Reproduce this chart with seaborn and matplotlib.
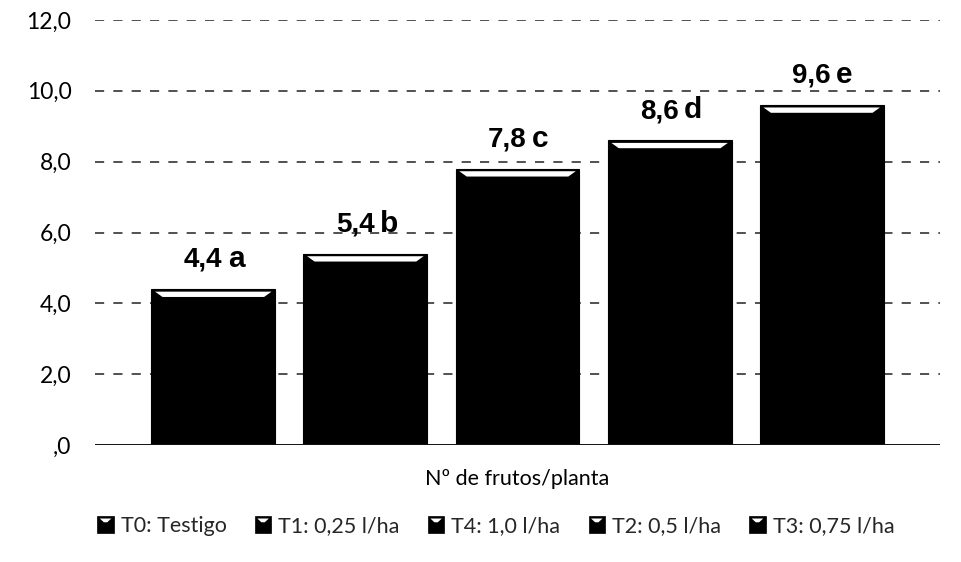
import matplotlib
matplotlib.use("Agg")
import matplotlib.pyplot as plt
from matplotlib.patches import Polygon, Rectangle
from matplotlib.legend_handler import HandlerBase
import seaborn as sns
import pandas as pd

# Fruits per plant by treatment, with significance letters
category = ["Nº de frutos/planta"]
treatments = ["T0: Testigo", "T1: 0,25 l/ha", "T4: 1,0 l/ha", "T2: 0,5 l/ha", "T3: 0,75 l/ha"]
values = [4.4, 5.4, 7.8, 8.6, 9.6]
letters = ["a", "b", "c", "d", "e"]
y_ticks = [0, 2, 4, 6, 8, 10, 12]
y_tick_labels = [",0", "2,0", "4,0", "6,0", "8,0", "10,0", "12,0"]

df = pd.DataFrame({
    "grupo": category * len(treatments),
    "tratamiento": treatments,
    "valor": values,
})

sns.set_theme(style="white")
plt.rcParams["font.family"] = ["Lato", "DejaVu Sans"]

fig = plt.figure(figsize=(9.62, 5.62), dpi=100)
ax = fig.add_axes([95 / 962, 1 - 445 / 562, (940 - 95) / 962, (445 - 20) / 562])

sns.barplot(
    data=df, x="grupo", y="valor", hue="tratamiento",
    hue_order=treatments, palette=["black"] * len(treatments),
    width=0.9, gap=0.185, edgecolor="black", linewidth=0.8,
    ax=ax, zorder=3,
)

ax.set_xlim(-0.5, 0.5)
ax.set_ylim(0, 12)
ax.set_yticks(y_ticks)
ax.set_yticklabels(y_tick_labels)
ax.set_xlabel("")
ax.set_ylabel("")
ax.tick_params(axis="y", length=0, labelsize=16.5, pad=17, colors="black")
ax.tick_params(axis="x", length=0, labelsize=15.5, pad=17, colors="black")
for s in ax.spines.values():
    s.set_visible(False)

# dashed horizontal gridlines
for v in y_ticks[1:]:
    ax.axhline(v, color="#222222", lw=1.1, ls=(0, (6, 6)), zorder=1)
ax.axhline(0, color="#111111", lw=1.4, zorder=4)

# white bevel highlight near each bar top, plus value labels
bars = [p for p in ax.patches if p.get_height() > 0]
bars = sorted(bars, key=lambda p: p.get_x())
for p, v, lt in zip(bars, values, letters):
    x0, w, h = p.get_x(), p.get_width(), p.get_height()
    ax.add_patch(Polygon(
        [(x0 + w * 0.03, h - 0.07), (x0 + w * 0.97, h - 0.07),
         (x0 + w * 0.91, h - 0.22), (x0 + w * 0.09, h - 0.22)],
        closed=True, facecolor="white", edgecolor="none", zorder=5))
    cx = x0 + w / 2
    ax.annotate(str(v).replace(".", ","), (cx, h), xytext=(6.5, 16),
                textcoords="offset points", ha="right", va="baseline",
                fontsize=20, fontweight="bold",
                family=["Liberation Sans", "DejaVu Sans"], color="black", zorder=6)
    ax.annotate(lt, (cx, h), xytext=(10.5, 16),
                textcoords="offset points", ha="left", va="baseline",
                fontsize=21.5, fontweight="bold",
                family=["Liberation Sans", "DejaVu Sans"], color="black", zorder=6)


class BevelSquare(HandlerBase):
    """Black legend square with a small white bevel notch at its top."""

    def create_artists(self, legend, orig_handle, xdescent, ydescent,
                       width, height, fontsize, trans):
        s = min(width, height)
        x0 = -xdescent + (width - s) / 2
        y0 = -ydescent + (height - s) / 2
        sq = Rectangle((x0, y0), s, s, facecolor="black", edgecolor="black",
                       lw=0.5, transform=trans)
        notch = Polygon(
            [(x0 + s * 0.15, y0 + s * 0.85), (x0 + s * 0.85, y0 + s * 0.85),
             (x0 + s * 0.6, y0 + s * 0.62), (x0 + s * 0.4, y0 + s * 0.62)],
            closed=True, facecolor="white", edgecolor="none", transform=trans)
        return [sq, notch]


handles, labels = ax.get_legend_handles_labels()
leg = ax.legend(
    handles, labels,
    handler_map={type(handles[0]): BevelSquare()},
    loc="center", bbox_to_anchor=(0.474, -0.19), ncol=5, frameon=False,
    fontsize=15.5, handlelength=0.8, handleheight=0.8, handletextpad=0.3,
    columnspacing=1.3,
)

fig.savefig("out.png", dpi=100)
